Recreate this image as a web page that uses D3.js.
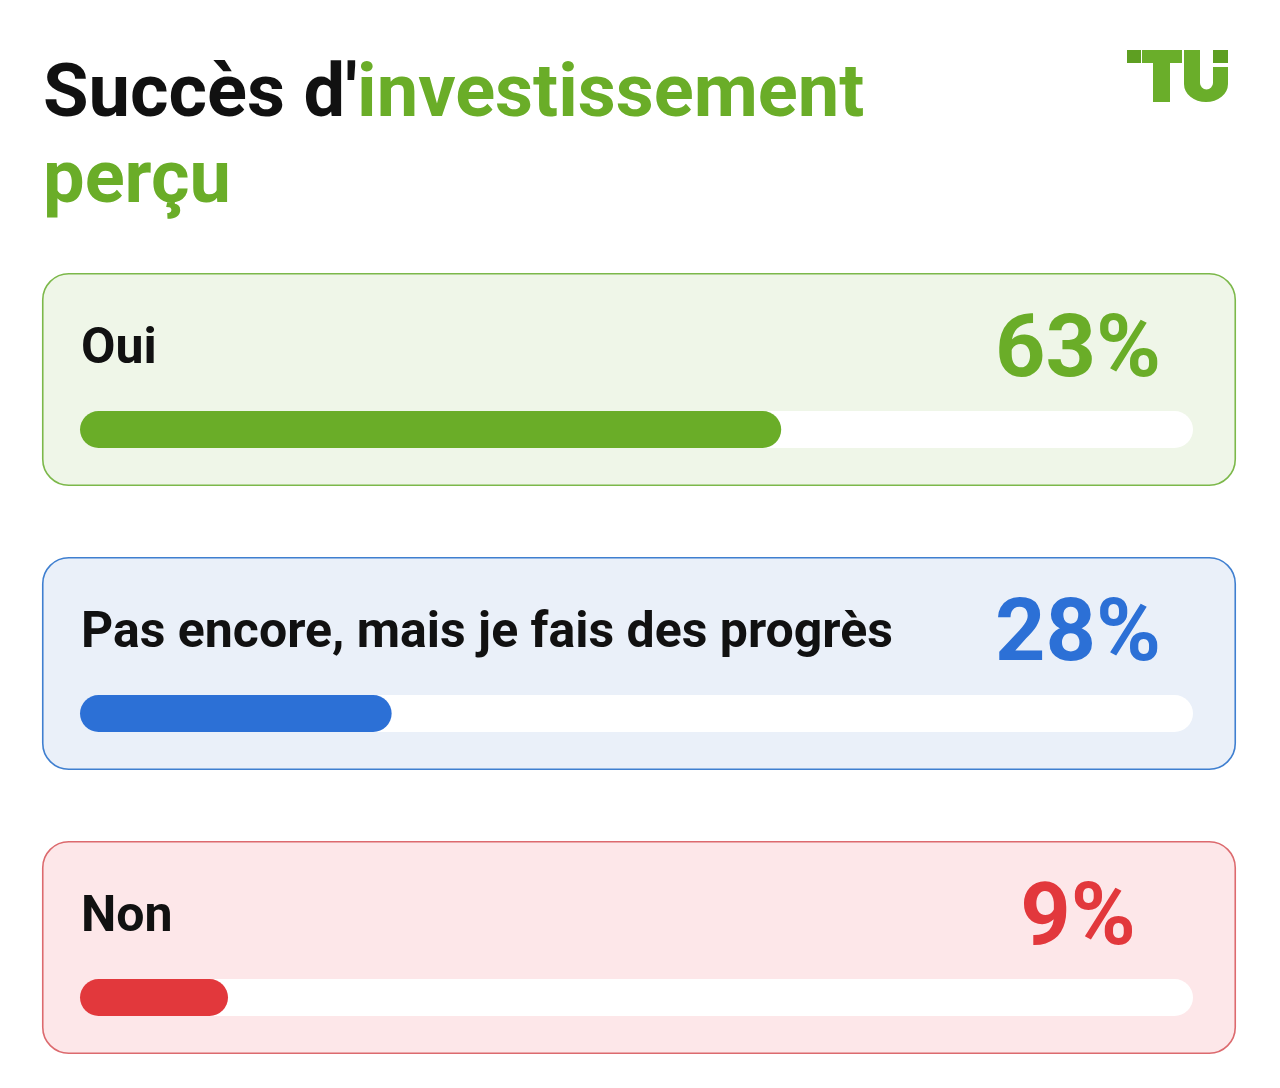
<!DOCTYPE html>
<html><head><meta charset="utf-8">
<script src="https://cdn.jsdelivr.net/npm/d3@7"></script>
<style>html,body{margin:0;padding:0;background:#fff;}svg{display:block;}</style>
</head><body>
<svg id="chart" width="1280" height="1088"></svg>
<script>
const categories = ["Oui", "Pas encore, mais je fais des progrès", "Non"];
const values = [63, 28, 9];
const valueLabels = ["63%", "28%", "9%"];
const titleParts = [["Succès d'", "investissement"], ["", "perçu"]];
const accentColors = ["#6aad28", "#2c70d6", "#e2383c"];
const cardFills = ["#eff6e8", "#eaf0f9", "#fde7e9"];
const cardStrokes = ["#7cb84a", "#3f7fd0", "#dc6a6e"];

const W = 1280, H = 1088;
const svg = d3.select("#chart");
svg.append("rect").attr("width", W).attr("height", H).attr("fill", "#fff");

// Title
const title = svg.append("g");
titleParts.forEach((p, i) => {
  const t = title.append("text")
    .attr("x", 43).attr("y", 116 + i * 86)
    .attr("font-family", "Roboto, sans-serif").attr("font-weight", 700)
    .attr("font-size", 74);
  t.append("tspan").attr("fill", "#111").text(p[0]);
  t.append("tspan").attr("fill", "#6aad28").text(p[1]);
});

// Logo TU
const logo = svg.append("g").attr("fill", "#6aae2a");
logo.append("rect").attr("x", 1127).attr("y", 50).attr("width", 14).attr("height", 13).attr("fill", "#5e9f22");
logo.append("rect").attr("x", 1142).attr("y", 50).attr("width", 40).attr("height", 13);
logo.append("rect").attr("x", 1153).attr("y", 50).attr("width", 17).attr("height", 52);
logo.append("path").attr("d", "M1184,50 H1200 V83 A6.5,6.5 0 0 0 1213,83 V67 H1228 V84 A22,18 0 0 1 1184,84 Z");
logo.append("rect").attr("x", 1213).attr("y", 50).attr("width", 15).attr("height", 13).attr("fill", "#5e9f22");

// Layout scales
const y = d3.scaleBand().domain(categories).range([273, 1054]).paddingInner(0.25).paddingOuter(0);
const cardX = 42, cardW = 1194;
const trackX = 80, trackW = 1113, trackH = 37;
const x = d3.scaleLinear().domain([0, 100]).range([0, trackW]);

const data = categories.map((c, i) => ({c, v: values[i], label: valueLabels[i], i}));

const cards = svg.selectAll("g.card").data(data).join("g")
  .attr("class", "card")
  .attr("transform", d => `translate(0,${y(d.c)})`);

cards.append("rect")
  .attr("x", cardX + 0.75).attr("y", 0.75)
  .attr("width", cardW - 1.5).attr("height", y.bandwidth() - 1.5)
  .attr("rx", 26)
  .attr("fill", d => cardFills[d.i])
  .attr("stroke", d => cardStrokes[d.i]).attr("stroke-width", 1.6);

cards.append("text")
  .attr("x", 81).attr("y", 90)
  .attr("font-family", "Roboto, sans-serif").attr("font-weight", 700)
  .attr("font-size", 50).attr("fill", "#111")
  .text(d => d.c);

cards.append("text")
  .attr("x", 1078).attr("y", 103).attr("text-anchor", "middle")
  .attr("font-family", "Roboto, sans-serif").attr("font-weight", 700)
  .attr("font-size", 88).attr("fill", d => accentColors[d.i])
  .text(d => d.label);

cards.append("rect")
  .attr("x", trackX).attr("y", 138)
  .attr("width", trackW).attr("height", trackH)
  .attr("rx", trackH / 2).attr("fill", "#fff");

cards.append("rect")
  .attr("x", trackX).attr("y", 138)
  .attr("width", d => Math.max(x(d.v), trackH * 4))
  .attr("height", trackH)
  .attr("rx", trackH / 2).attr("fill", d => accentColors[d.i]);
</script>
</body></html>
